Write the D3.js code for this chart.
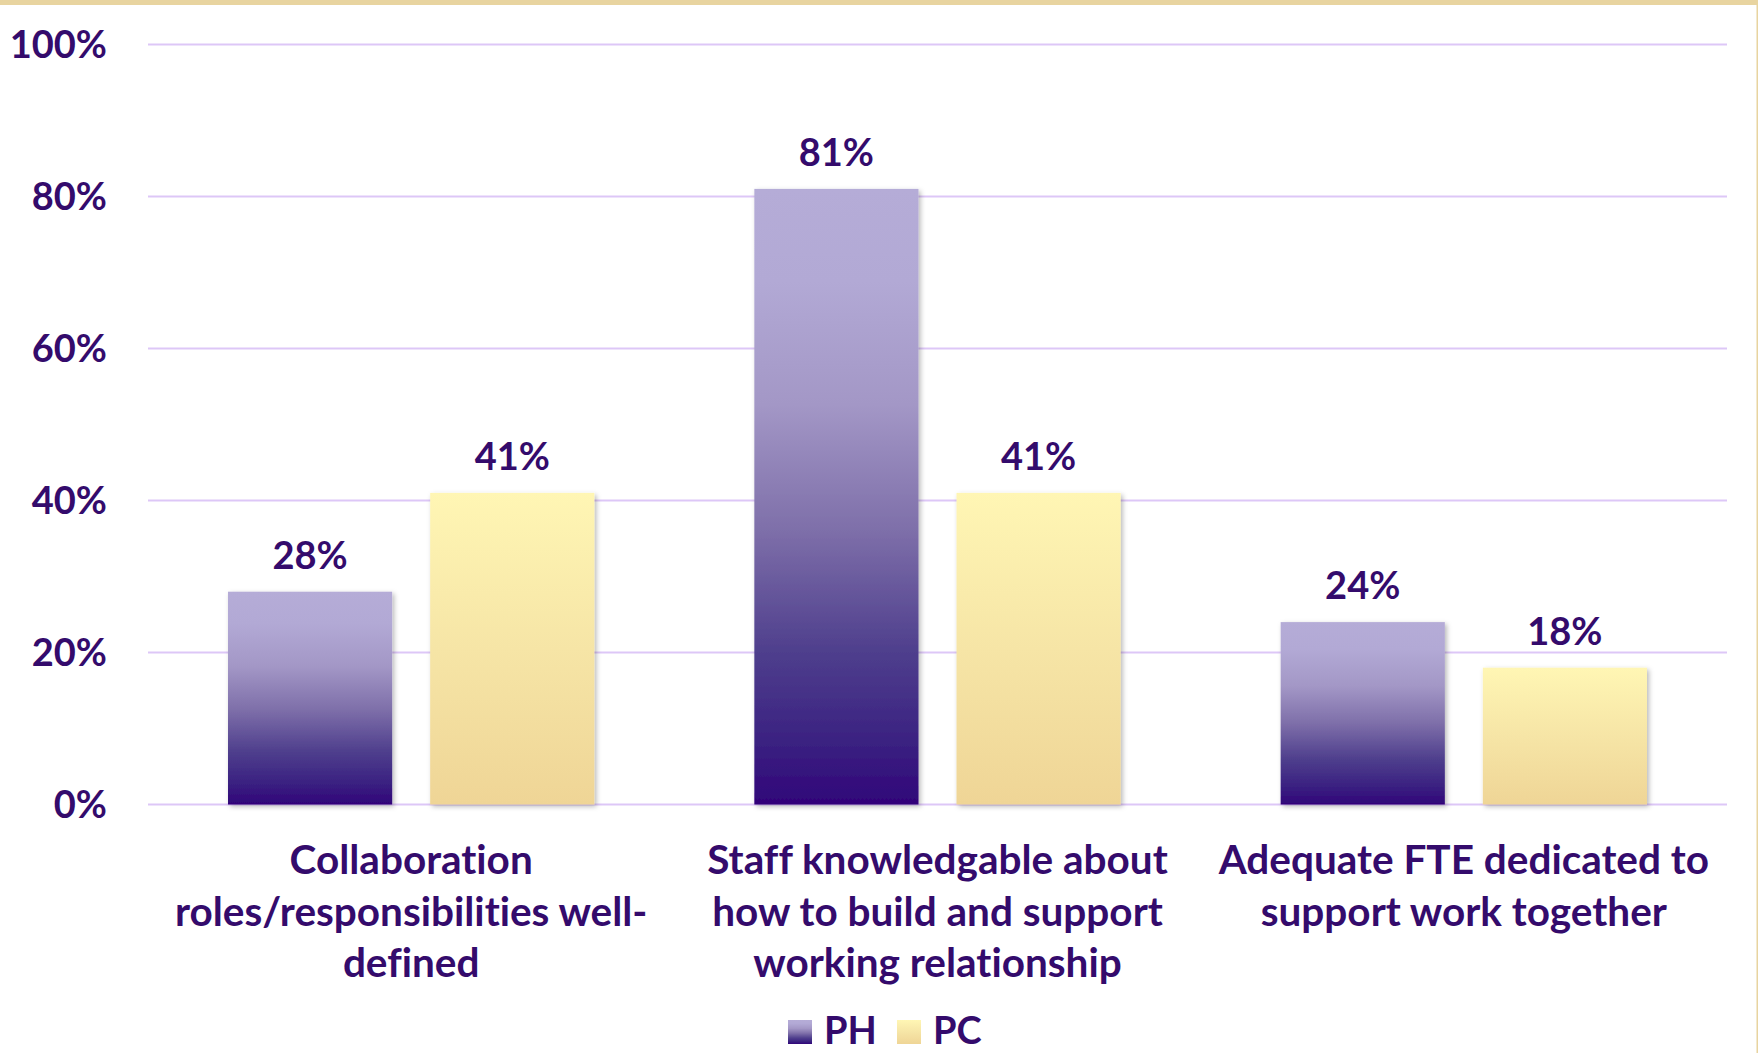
<!DOCTYPE html>
<html>
<head>
<meta charset="utf-8">
<script src="https://cdn.jsdelivr.net/npm/d3@7"></script>
<style>
  html, body { margin: 0; padding: 0; background: #ffffff; }
  svg { display: block; }
  text { font-family: Lato, "Open Sans", sans-serif; font-weight: 700; fill: #340b6c;
         font-variant-ligatures: none; }
</style>
</head>
<body>
<svg id="chart" width="1758" height="1053"></svg>
<script>
// Survey results: share answering favourably, by group
const categories = [
  "Collaboration roles/responsibilities well-defined",
  "Staff knowledgable about how to build and support working relationship",
  "Adequate FTE dedicated to support work together"
];
const categoryLines = [
  ["Collaboration", "roles/responsibilities well-", "defined"],
  ["Staff knowledgable about", "how to build and support", "working relationship"],
  ["Adequate FTE dedicated to", "support work together"]
];
const series = ["PH", "PC"];
const valuesPH = [0.28, 0.81, 0.24];
const valuesPC = [0.41, 0.41, 0.18];
const yTicks = [0, 0.2, 0.4, 0.6, 0.8, 1.0];

const W = 1758, H = 1053;
const plot = { left: 148, right: 1727, top: 44.5, bottom: 804.5 };

const svg = d3.select("#chart");
const defs = svg.append("defs");

// Bar fills: vertical gradients per series
const gPH = defs.append("linearGradient").attr("id", "grad-PH")
  .attr("x1", 0).attr("y1", 0).attr("x2", 0).attr("y2", 1);
[[0, "#b5acd7"], [0.15, "#b2a9d5"], [0.35, "#a397c6"], [0.55, "#7f70aa"],
 [0.75, "#4f3f8d"], [0.9, "#3a2181"], [1, "#310479"]]
  .forEach(([o, c]) => gPH.append("stop").attr("offset", o).attr("stop-color", c));

const gPC = defs.append("linearGradient").attr("id", "grad-PC")
  .attr("x1", 0).attr("y1", 0).attr("x2", 0).attr("y2", 1);
[[0, "#fff6b4"], [0.5, "#f6e5a6"], [1, "#efd596"]]
  .forEach(([o, c]) => gPC.append("stop").attr("offset", o).attr("stop-color", c));

const shadow = defs.append("filter").attr("id", "barShadow")
  .attr("x", "-10%").attr("y", "-10%").attr("width", "130%").attr("height", "130%");
shadow.append("feDropShadow").attr("dx", 2).attr("dy", 2).attr("stdDeviation", 2.5)
  .attr("flood-color", "#000").attr("flood-opacity", 0.28);

// Frame: gold band along the top and a thin rule on the right
svg.append("rect").attr("x", 0).attr("y", 0).attr("width", W).attr("height", 5).attr("fill", "#e8d4a0");
svg.append("rect").attr("x", W - 1.5).attr("y", 0).attr("width", 1.5).attr("height", H).attr("fill", "#e8d4a0");

const y = d3.scaleLinear().domain([0, 1]).range([plot.bottom, plot.top]);
const x0 = d3.scaleBand().domain(categories).range([plot.left, plot.right]);
const gw = x0.bandwidth();
const x1 = d3.scaleBand().domain(series).range([gw * 0.152, gw * 0.848]).paddingInner(0.188);

// Gridlines
svg.append("g").selectAll("line").data(yTicks).join("line")
  .attr("x1", plot.left).attr("x2", plot.right)
  .attr("y1", d => y(d)).attr("y2", d => y(d))
  .attr("stroke", "#ddc7f7").attr("stroke-width", 1.8);

// Y axis tick labels
const yAxis = d3.axisLeft(y).tickValues(yTicks).tickFormat(d3.format(".0%")).tickSize(0).tickPadding(0);
const ya = svg.append("g").attr("transform", "translate(107,0)").call(yAxis);
ya.select(".domain").remove();
ya.selectAll("text").attr("font-size", 38).attr("dy", "0.35em")
  .style("font-family", "Lato, 'Open Sans', sans-serif").style("font-weight", 700).attr("fill", "#340b6c");

// Bars
const rows = categories.map((c, i) => ({ cat: c, PH: valuesPH[i], PC: valuesPC[i] }));
const groups = svg.append("g").selectAll("g").data(rows).join("g")
  .attr("transform", d => `translate(${x0(d.cat)},0)`);

const bars = groups.selectAll("g.bar").data(d => series.map(s => ({ s, v: d[s] }))).join("g").attr("class", "bar");
bars.append("rect")
  .attr("x", d => x1(d.s)).attr("width", x1.bandwidth())
  .attr("y", d => y(d.v)).attr("height", d => y(0) - y(d.v))
  .attr("fill", d => `url(#grad-${d.s})`)
  .attr("filter", "url(#barShadow)");
bars.append("text")
  .attr("x", d => x1(d.s) + x1.bandwidth() / 2)
  .attr("y", d => y(d.v) - 23)
  .attr("text-anchor", "middle").attr("font-size", 38)
  .text(d => d3.format(".0%")(d.v));

// Category labels
const lineGap = 51.5;
svg.append("g").selectAll("text").data(categories).join("text")
  .attr("text-anchor", "middle").attr("font-size", 40.5)
  .attr("transform", d => `translate(${x0(d) + gw / 2},874)`)
  .each(function (d, i) {
    d3.select(this).selectAll("tspan").data(categoryLines[i]).join("tspan")
      .attr("x", 0).attr("y", (t, j) => j * lineGap).text(t => t);
  });

// Legend
const legend = svg.append("g").attr("transform", "translate(788,1020)");
const items = legend.selectAll("g").data(series).join("g")
  .attr("transform", (d, i) => `translate(${i * 109},0)`);
items.append("rect").attr("width", 24).attr("height", 24).attr("fill", d => `url(#grad-${d})`);
items.append("text").attr("x", 36).attr("y", 24).attr("font-size", 38).text(d => d);
</script>
</body>
</html>
